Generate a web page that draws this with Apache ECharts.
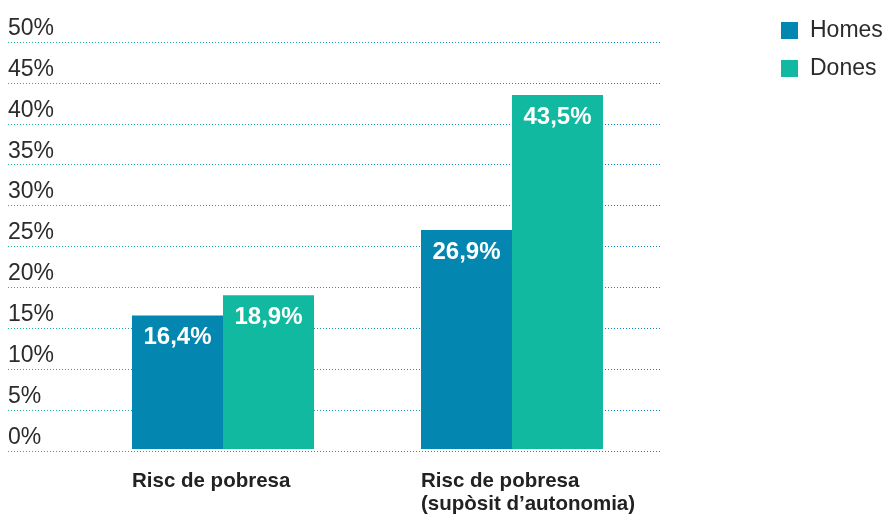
<!DOCTYPE html>
<html>
<head>
<meta charset="utf-8">
<script src="https://cdn.jsdelivr.net/npm/echarts@6/dist/echarts.min.js"></script>
<style>html,body{margin:0;padding:0;background:#fff;}#c{width:887px;height:515px;}</style>
</head>
<body>
<div id="c"></div>
<script>
const categories = ['Risc de pobresa', 'Risc de pobresa\n(supòsit d\u2019autonomia)'];
const seriesNames = ['Homes', 'Dones'];
const homes = [16.4, 26.9];
const dones = [18.9, 43.5];
const yMin = 0, yMax = 50, yStep = 5;

const FONT = '"Liberation Sans", Arial, Helvetica, sans-serif';
const fmtPct = v => v.toFixed(1).replace('.', ',') + '%';

const chart = echarts.init(document.getElementById('c'), null, {renderer: 'canvas'});
const barLabel = {
  show: true, position: 'insideTop', distance: 10,
  color: '#fff', fontSize: 24, fontWeight: 'bold', fontFamily: FONT,
  formatter: p => fmtPct(p.value)
};
chart.setOption({
  animation: false,
  backgroundColor: '#fff',
  legend: {
    data: seriesNames, orient: 'vertical', left: 781, top: 19, padding: 0,
    itemWidth: 17, itemHeight: 17, itemGap: 15, icon: 'rect',
    textStyle: {fontSize: 23, fontFamily: FONT, color: '#2b2b2b', padding: [0, 0, 0, 7], lineHeight: 23}
  },
  grid: [
    {left: 8, right: 227, top: 42, bottom: 64},
    {left: 78.5, right: 230.5, top: 42, bottom: 64}
  ],
  xAxis: [
    {gridIndex: 0, type: 'value', show: false, min: 0, max: 1},
    {
      gridIndex: 1, type: 'category', data: categories,
      axisLine: {show: false}, axisTick: {show: false},
      axisLabel: {
        margin: 21, interval: 0,
        formatter: v => v.split('\n').map(s => '{a|' + s + '}').join('\n'),
        rich: {a: {width: 182, align: 'left', fontSize: 20.5, fontWeight: 'bold', fontFamily: FONT, color: '#222', lineHeight: 23}}
      }
    }
  ],
  yAxis: [
    {
      gridIndex: 0, type: 'value', min: yMin, max: yMax, interval: yStep,
      axisLine: {show: false}, axisTick: {show: false},
      axisLabel: {
        inside: true, align: 'left', verticalAlign: 'bottom', margin: 0,
        padding: [0, 0, 2, 0],
        fontSize: 23, fontFamily: FONT, color: '#2b2b2b',
        formatter: v => v + '%'
      },
      splitLine: {
        show: true,
        lineStyle: {
          type: [1, 2], width: 1,
          color: new echarts.graphic.LinearGradient(0, 0, 1, 0, [
            {offset: 0, color: '#16b597'}, {offset: 1, color: '#0a84b4'}
          ])
        }
      }
    },
    {gridIndex: 1, type: 'value', min: yMin, max: yMax, interval: yStep, show: false, splitLine: {show: false}}
  ],
  series: [
    {name: seriesNames[0], type: 'bar', xAxisIndex: 1, yAxisIndex: 1, data: homes,
     barWidth: 91, barGap: '0%', itemStyle: {color: '#0387b1'}, label: barLabel},
    {name: seriesNames[1], type: 'bar', xAxisIndex: 1, yAxisIndex: 1, data: dones,
     barWidth: 91, barGap: '0%', itemStyle: {color: '#10b99f'}, label: barLabel}
  ]
});
</script>
</body>
</html>
